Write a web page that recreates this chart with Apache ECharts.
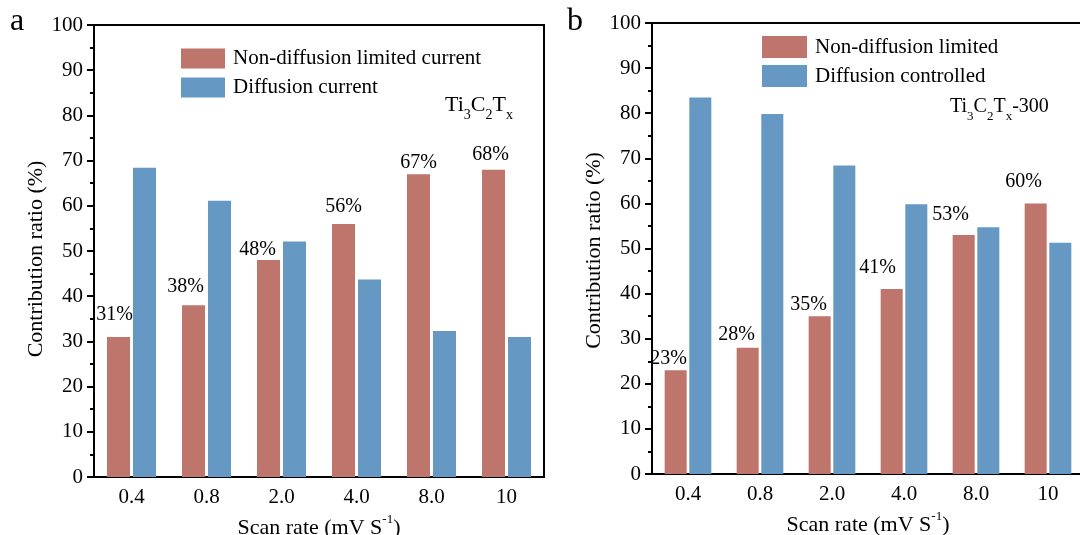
<!DOCTYPE html>
<html>
<head>
<meta charset="utf-8">
<script src="https://cdn.jsdelivr.net/npm/echarts@6/dist/echarts.min.js"></script>
<style>
  html, body { margin: 0; padding: 0; background: #fff; }
  #chart { width: 1080px; height: 535px; }
</style>
</head>
<body>
<div id="chart"></div>
<script>
// Scan rates (mV/s) shared by both panels
const scanRates = ['0.4', '0.8', '2.0', '4.0', '8.0', '10'];

// Panel a: Ti3C2Tx
const namesA = ['Non-diffusion limited current', 'Diffusion current'];
const nonDiffA = [31, 38, 48, 56, 67, 68];
const diffA = [68.4, 61.1, 52.1, 43.7, 32.3, 31.0];

// Panel b: Ti3C2Tx-300
const namesB = ['Non-diffusion limited', 'Diffusion controlled'];
const nonDiffB = [23, 28, 35, 41, 53, 60];
const diffB = [83.5, 79.8, 68.4, 59.8, 54.7, 51.3];

// Percent-axis range
const yMin = 0, yMax = 100, yStep = 10;

// Nudges [dx, dy] for the percentage tags above the red bars
const tagShiftA = [[-4, -12], [-8, -8], [-11, 0], [0, -7], [0, -1], [-3, -5]];
const tagShiftB = [[-7, -2], [-11, -3], [-11, -1], [-14, -11], [-13, -10], [-12, -12]];

const FONT = 'Liberation Serif';
const RED = '#bd756c';
const BLUE = '#6598c3';

function barSeries(name, values, color, gi, barWidth, barGap, shifts) {
  return {
    type: 'bar',
    name: name,
    xAxisIndex: gi,
    yAxisIndex: gi,
    barWidth: barWidth,
    barGap: barGap,
    itemStyle: { color: color },
    data: values.map((v, i) => shifts ? { value: v, label: { offset: shifts[i] } } : v),
    label: shifts ? {
      show: true, position: 'top', distance: 0, formatter: '{c}%',
      fontFamily: FONT, fontSize: 20, color: '#000'
    } : { show: false },
    animation: false
  };
}

function catAxis(gi, nameGap) {
  return {
    type: 'category', gridIndex: gi, data: scanRates,
    axisTick: { show: false },
    axisLine: { lineStyle: { color: '#000', width: 2 } },
    axisLabel: { fontFamily: FONT, fontSize: 21, color: '#000', margin: 10 },
    name: 'Scan rate (mV S{sup|-1})',
    nameLocation: 'middle', nameGap: nameGap,
    nameTextStyle: {
      fontFamily: FONT, fontSize: 22, color: '#000', lineHeight: 30,
      rich: { sup: { fontFamily: FONT, fontSize: 13, color: '#000', verticalAlign: 'top', lineHeight: 14 } }
    }
  };
}

function pctAxis(gi, nameGap, namePad) {
  return {
    type: 'value', gridIndex: gi, min: yMin, max: yMax, interval: yStep,
    splitLine: { show: false },
    axisLine: { show: true, lineStyle: { color: '#000', width: 2 } },
    axisTick: { show: true, length: 7, lineStyle: { color: '#000', width: 2 } },
    minorTick: { show: true, splitNumber: 2, length: 4, lineStyle: { color: '#000', width: 2 } },
    axisLabel: { fontFamily: FONT, fontSize: 21, color: '#000', margin: 11 },
    name: 'Contribution ratio (%)',
    nameLocation: 'middle', nameGap: nameGap,
    nameTextStyle: { fontFamily: FONT, fontSize: 22, color: '#000', padding: namePad }
  };
}

function legendBox(names, left, top, w, h, gap) {
  return {
    data: names, orient: 'vertical', left: left, top: top,
    itemWidth: w, itemHeight: h, itemGap: gap, icon: 'rect',
    textStyle: { fontFamily: FONT, fontSize: 21, color: '#000', padding: [0, 0, 0, 3] }
  };
}

function formulaText(x, y, text, size, subSize) {
  return {
    type: 'text', x: x, y: y, silent: true,
    style: {
      text: text, fill: '#000', fontFamily: FONT, fontSize: size,
      verticalAlign: 'top',
      rich: {
        m: { fontFamily: FONT, fontSize: size, lineHeight: size + 12, fill: '#000' },
        s: { fontFamily: FONT, fontSize: subSize, lineHeight: subSize, verticalAlign: 'bottom', fill: '#000' }
      }
    }
  };
}

const option = {
  backgroundColor: '#fff',
  animation: false,
  textStyle: { fontFamily: FONT },
  grid: [
    { left: 94, top: 25, width: 450, height: 452, show: true, borderColor: '#000', borderWidth: 2,
      outerBoundsMode: 'none', containLabel: false },
    { left: 652, top: 23, width: 432, height: 451, show: true, borderColor: '#000', borderWidth: 2,
      outerBoundsMode: 'none', containLabel: false }
  ],
  xAxis: [catAxis(0, 33), catAxis(1, 31)],
  yAxis: [pctAxis(0, 47, [0, 16, 0, 0]), pctAxis(1, 43, [0, 4, 0, 0])],
  legend: [
    legendBox(namesA, 176, 43, 44, 20, 8),
    legendBox(namesB, 757, 31, 45, 22, 7)
  ],
  series: [
    barSeries(namesA[0], nonDiffA, RED, 0, 23, '13%', tagShiftA),
    barSeries(namesA[1], diffA, BLUE, 0, 23, '13%', null),
    barSeries(namesB[0], nonDiffB, RED, 1, 22, '12%', tagShiftB),
    barSeries(namesB[1], diffB, BLUE, 1, 22, '12%', null)
  ],
  graphic: [
    { type: 'text', x: 10, y: 22, silent: true,
      style: { text: 'a', fill: '#000', font: '32px "Liberation Serif"', verticalAlign: 'middle' } },
    { type: 'text', x: 567, y: 22, silent: true,
      style: { text: 'b', fill: '#000', font: '32px "Liberation Serif"', verticalAlign: 'middle' } },
    formulaText(445, 88, '{m|Ti}{s|3}{m|C}{s|2}{m|T}{s|x}', 22, 14),
    formulaText(950, 91, '{m|Ti}{s|3}{m|C}{s|2}{m|T}{s|x}{m|-300}', 20, 13)
  ]
};

const chart = echarts.init(document.getElementById('chart'), null, { renderer: 'canvas' });
chart.setOption(option);
</script>
</body>
</html>
